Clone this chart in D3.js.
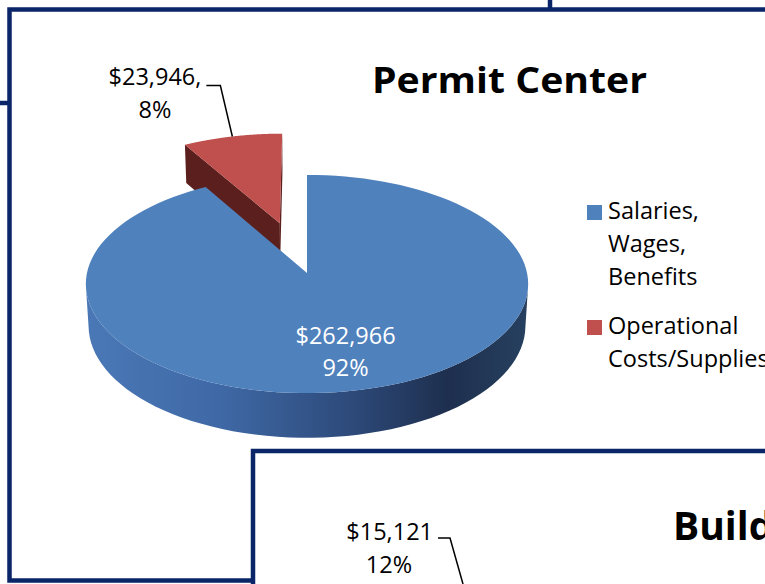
<!DOCTYPE html>
<html>
<head>
<meta charset="utf-8">
<script src="https://cdn.jsdelivr.net/npm/d3@7"></script>
<style>
body{margin:0;background:#fff;}
svg{display:block;font-family:"Open Sans",sans-serif;}
</style>
</head>
<body>
<div id="chart"></div>
<script>
// ---- data ----------------------------------------------------------
var categories = ["Salaries, Wages, Benefits", "Operational Costs/Supplies"];
var legendLines = [["Salaries,", "Wages,", "Benefits"], ["Operational", "Costs/Supplies"]];
var values = [262966, 23946];
var title = "Permit Center";
// next chart on the page, only its top shows
var nextTitle = "Building";
var nextValues = [15121];
var nextPercents = ["12%"];

var W = 765, H = 584;
var svg = d3.select("#chart").append("svg").attr("width", W).attr("height", H);

var color = d3.scaleOrdinal().domain(categories).range(["#4f81bd", "#c0504d"]);
var cutColor = d3.scaleOrdinal().domain(categories).range(["#2c4a78", "#5b1f1d"]);
var money = d3.format("$,");
var pct = d3.format(".0%");

// side gradient of the blue slice
var grad = svg.append("defs").append("linearGradient")
    .attr("id", "blueSide").attr("gradientUnits", "userSpaceOnUse")
    .attr("x1", 87).attr("x2", 527).attr("y1", 0).attr("y2", 0);
[[0, "#4a78b6"], [0.3, "#3f69a6"], [0.6, "#2d4a7a"], [0.82, "#1e2f4e"], [1, "#27405f"]]
    .forEach(function(s){ grad.append("stop").attr("offset", s[0]).attr("stop-color", s[1]); });
var sideColor = d3.scaleOrdinal().domain(categories).range(["url(#blueSide)", "#5b1f1d"]);

//---------------------------------------------------------------------
// perspective camera for the 3d pie
var cx = 307, cy = 273, f = 1899, D = 8.63, tilt = 29.4 * Math.PI / 180, thick = 0.22;
var cam = [0, D * Math.sin(tilt), -D * Math.cos(tilt)];

function project(x, y, z){
    var sy = y * Math.cos(tilt) + z * Math.sin(tilt);
    var dep = -y * Math.sin(tilt) + z * Math.cos(tilt) + D;
    return [cx + f * x / dep, cy - f * sy / dep];
}
function rim(s, a, y){
    return project(s.ox + Math.sin(a), y, s.oz + Math.cos(a));
}
function facing(p, n){
    return (p[0]-cam[0])*n[0] + (p[1]-cam[1])*n[1] + (p[2]-cam[2])*n[2] < 0;
}
var line = d3.line();

//---------------------------------------------------------------------
var slices = d3.pie().sort(null)(values).map(function(d, i){
    var mid = (d.startAngle + d.endAngle) / 2;
    var e = (d.value / d3.sum(values) < 0.5) ? 0.5 : 0;   // small slice pulled out
    d.cat = categories[i];
    d.mid = mid;
    d.ox = e * Math.sin(mid);
    d.oz = e * Math.cos(mid);
    return d;
});
// back slices first
slices.sort(function(a, b){ return (b.oz + Math.cos(b.mid)) - (a.oz + Math.cos(a.mid)); });

slices.forEach(function(s){
    var g = svg.append("g");
    var v = [s.ox, 0, s.oz];
    var steps = d3.range(121).map(function(i){ return s.startAngle + (s.endAngle - s.startAngle) * i / 120; });

    // cut faces
    [[s.startAngle, [-Math.cos(s.startAngle), 0, Math.sin(s.startAngle)]],
     [s.endAngle, [Math.cos(s.endAngle), 0, -Math.sin(s.endAngle)]]].forEach(function(c){
        if (!facing(v, c[1])) return;
        var pts = [project(s.ox, 0, s.oz), rim(s, c[0], 0), rim(s, c[0], -thick), project(s.ox, -thick, s.oz)];
        g.append("path").attr("d", line(pts) + "Z").attr("fill", cutColor(s.cat));
    });

    // outer wall, only the part that faces the camera
    var vis = steps.filter(function(a){
        return facing([s.ox + Math.sin(a), 0, s.oz + Math.cos(a)], [Math.sin(a), 0, Math.cos(a)]);
    });
    if (vis.length > 1){
        var pts = vis.map(function(a){ return rim(s, a, 0); })
            .concat(vis.slice().reverse().map(function(a){ return rim(s, a, -thick); }));
        g.append("path").attr("d", line(pts) + "Z").attr("fill", sideColor(s.cat));
    }

    // top
    var top = [project(s.ox, 0, s.oz)].concat(steps.map(function(a){ return rim(s, a, 0); }));
    g.append("path").attr("d", line(top) + "Z").attr("fill", color(s.cat));
});

//---------------------------------------------------------------------
// data labels
var total = d3.sum(values);
var fs = 23.5;
slices.forEach(function(s){
    var share = pct(s.value / total);
    if (s.ox === 0){
        // inside label
        var p = project(0.65 * Math.sin(s.mid), 0, 0.65 * Math.cos(s.mid));
        var t = svg.append("text").attr("fill", "#fff").attr("font-size", fs).attr("text-anchor", "middle");
        t.append("tspan").attr("x", p[0] - 1).attr("y", p[1] - 1).text(money(s.value));
        t.append("tspan").attr("x", p[0] - 1).attr("y", p[1] + 31).text(share);
    } else {
        var end = rim(s, s.mid, 0);
        var elbow = [end[0] - 12, end[1] - 51];
        var start = [elbow[0] - 14, elbow[1]];
        svg.append("path").attr("d", line([start, elbow, end]))
            .attr("fill", "none").attr("stroke", "#000").attr("stroke-width", 1.5);
        var t1 = svg.append("text").attr("font-size", fs).attr("text-anchor", "end")
            .attr("x", start[0] - 5).attr("y", start[1]).text(money(s.value) + ",");
        var b = t1.node().getBBox();
        svg.append("text").attr("font-size", fs).attr("text-anchor", "middle")
            .attr("x", b.x + b.width / 2).attr("y", start[1] + 33).text(share);
    }
});

//---------------------------------------------------------------------
// title and legend
svg.append("text").attr("x", 372).attr("y", 93).attr("font-size", 35).attr("font-weight", "bold")
    .attr("textLength", 275).attr("lengthAdjust", "spacingAndGlyphs").text(title);

var leg = svg.append("g").attr("transform", "translate(587,0)");
var legY = [205, 320];
categories.forEach(function(c, i){
    leg.append("rect").attr("x", 0).attr("y", legY[i]).attr("width", 15).attr("height", 15).attr("fill", color(c));
    legendLines[i].forEach(function(l, j){
        leg.append("text").attr("x", 21).attr("y", legY[i] + 14 + j * 33).attr("font-size", fs).text(l);
    });
});

//---------------------------------------------------------------------
// next chart, cut off by the page
svg.append("text").attr("x", 673).attr("y", 540).attr("font-size", 39).attr("font-weight", "bold").text(nextTitle);
svg.append("text").attr("x", 433).attr("y", 540).attr("font-size", fs).attr("text-anchor", "end").text(money(nextValues[0]));
svg.append("text").attr("x", 389).attr("y", 573).attr("font-size", fs).attr("text-anchor", "middle").text(nextPercents[0]);
svg.append("path").attr("d", "M438,538H450L463,584").attr("fill", "none").attr("stroke", "#000").attr("stroke-width", 1.5);

//---------------------------------------------------------------------
// page frames
var frame = svg.append("g").attr("fill", "none").attr("stroke", "#0b2569").attr("stroke-width", 4.5);
frame.append("path").attr("d", "M0,103H9.5");
frame.append("path").attr("d", "M550,0V9.5");
frame.append("path").attr("d", "M765,9.5H9.5V580.5H253");
frame.append("path").attr("d", "M253,584V451H765");
</script>
</body>
</html>
